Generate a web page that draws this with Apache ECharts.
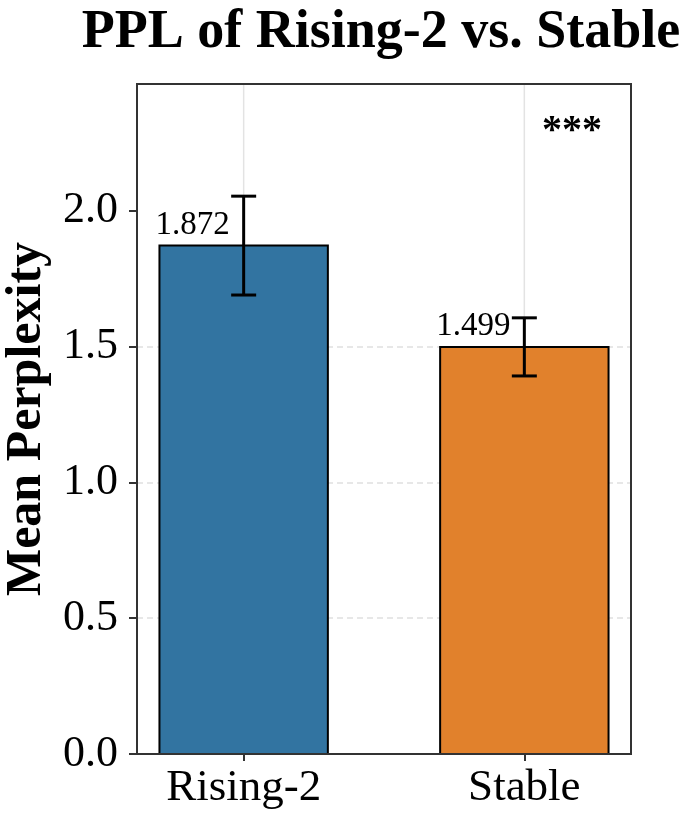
<!DOCTYPE html>
<html>
<head>
<meta charset="utf-8">
<script src="https://cdn.jsdelivr.net/npm/echarts@6/dist/echarts.min.js"></script>
<style>
  html, body { margin: 0; padding: 0; background: #fff; }
  #main { width: 697px; height: 822px; }
</style>
</head>
<body>
<div id="main"></div>
<script>
var categories = ['Rising-2', 'Stable'];
var means = [1.872, 1.499];
var errors = [0.182, 0.107];
var barColors = ['#3274a1', '#e1812c'];
var yTicks = [0, 0.5, 1.0, 1.5, 2.0];
var yMax = 2.467;
var xRange = [-0.38, 1.38];
var sigText = '***';
var sigPos = [1.17, 2.29];

var font = '"Liberation Serif", "Times New Roman", serif';
var myChart = echarts.init(document.getElementById('main'));

var barData = categories.map(function (c, i) {
    return [i, means[i], errors[i]];
});

function renderBar(params, api) {
    var i = params.dataIndex;
    var x = api.value(0), v = api.value(1), e = api.value(2);
    var tl = api.coord([x - 0.3, v]);
    var br = api.coord([x + 0.3, 0]);
    var top = api.coord([x, v + e]);
    var bot = api.coord([x, v - e]);
    var cap = 12.5;
    return {
        type: 'group',
        children: [
            {
                type: 'rect',
                shape: { x: tl[0], y: tl[1], width: br[0] - tl[0], height: br[1] - tl[1] },
                style: { fill: barColors[i], stroke: '#000', lineWidth: 2 }
            },
            {
                type: 'line',
                shape: { x1: top[0], y1: top[1], x2: bot[0], y2: bot[1] },
                style: { stroke: '#000', lineWidth: 3 }
            },
            {
                type: 'line',
                shape: { x1: top[0] - cap, y1: top[1], x2: top[0] + cap, y2: top[1] },
                style: { stroke: '#000', lineWidth: 3 }
            },
            {
                type: 'line',
                shape: { x1: bot[0] - cap, y1: bot[1], x2: bot[0] + cap, y2: bot[1] },
                style: { stroke: '#000', lineWidth: 3 }
            },
            {
                type: 'text',
                style: {
                    x: tl[0] + (br[0] - tl[0]) / 2 - 51,
                    y: tl[1] - 4,
                    text: v.toFixed(3),
                    fill: '#000',
                    font: '33px ' + font,
                    align: 'center',
                    verticalAlign: 'bottom'
                },
                z2: 10
            }
        ]
    };
}

function renderVGrid(params, api) {
    var x = api.value(0);
    var a = api.coord([x, 0]);
    var b = api.coord([x, yMax]);
    return {
        type: 'line',
        shape: { x1: a[0], y1: a[1], x2: b[0], y2: b[1] },
        style: { stroke: '#e3e3e3', lineWidth: 1.5 }
    };
}

function renderSig(params, api) {
    var p = api.coord([api.value(0), api.value(1)]);
    return {
        type: 'text',
        style: {
            x: p[0], y: p[1],
            text: sigText,
            fill: '#000',
            font: 'bold 40px ' + font,
            align: 'center',
            verticalAlign: 'middle'
        }
    };
}

var option = {
    backgroundColor: '#fff',
    animation: false,
    title: {
        text: 'PPL of Rising-2 vs. Stable',
        left: 376,
        textAlign: 'center',
        top: 1,
        textStyle: { fontFamily: font, fontSize: 54, fontWeight: 'bold', color: '#000' }
    },
    grid: {
        left: 137, right: 66, top: 84, bottom: 68,
        outerBoundsMode: 'none', containLabel: false,
        show: true, borderColor: '#333', borderWidth: 2, backgroundColor: 'transparent', z: 5
    },
    xAxis: {
        type: 'value',
        min: xRange[0],
        max: xRange[1],
        axisLine: { show: false },
        splitLine: { show: false },
        axisTick: { show: true, customValues: [0, 1], length: 7, lineStyle: { color: '#333', width: 2 } },
        axisLabel: {
            customValues: [0, 1],
            formatter: function (v) { return categories[Math.round(v)]; },
            fontFamily: font, fontSize: 45, color: '#000', margin: 12
        }
    },
    yAxis: {
        type: 'value',
        min: 0,
        max: yMax,
        interval: 0.5,
        name: 'Mean Perplexity',
        nameLocation: 'middle',
        nameGap: 84,
        nameTextStyle: { fontFamily: font, fontSize: 50, fontWeight: 'bold', color: '#000' },
        axisLine: { show: false, onZero: false },
        axisTick: { show: true, customValues: yTicks, length: 8, lineStyle: { color: '#333', width: 2 } },
        axisLabel: {
            customValues: yTicks,
            formatter: function (v) { return v.toFixed(1); },
            fontFamily: font, fontSize: 44, color: '#000', margin: 19
        },
        splitLine: {
            show: true, showMinLine: false, showMaxLine: false,
            lineStyle: { color: '#e0e0e0', width: 1.5, type: [6, 4] }
        }
    },
    series: [
        {
            type: 'custom',
            z: 1,
            renderItem: renderVGrid,
            data: barData,
            silent: true
        },
        {
            type: 'custom',
            z: 3,
            renderItem: renderBar,
            encode: { x: 0, y: 1 },
            data: barData
        },
        {
            type: 'custom',
            z: 4,
            renderItem: renderSig,
            data: [sigPos],
            silent: true
        }
    ]
};

myChart.setOption(option);
</script>
</body>
</html>
